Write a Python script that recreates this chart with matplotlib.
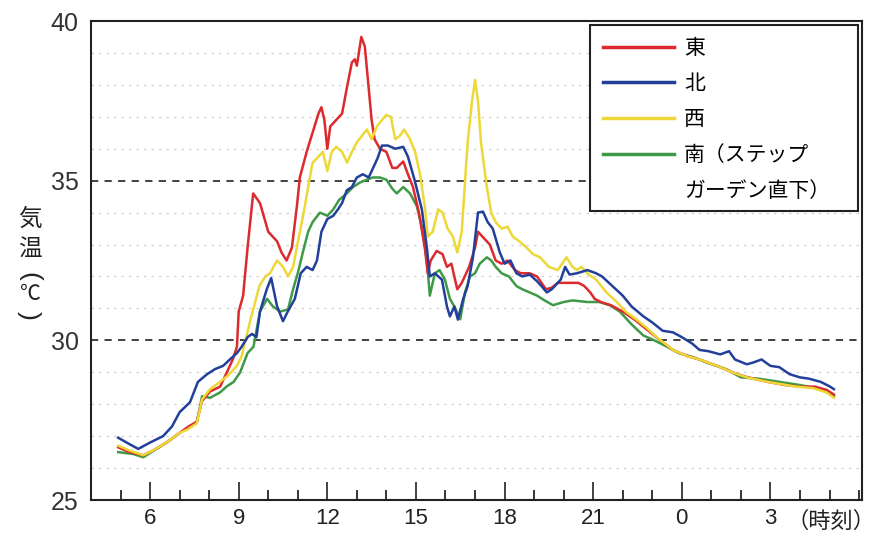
import matplotlib
matplotlib.use("Agg")
import matplotlib.pyplot as plt
from matplotlib.lines import Line2D
from matplotlib.patches import Rectangle

plt.rcParams["font.family"] = ["Liberation Sans", "Noto Sans CJK JP"]

# hours from midnight of day 1 (24 = 0:00 next day)
east_t = [4.92, 5.3, 5.77, 6.1, 6.56, 7.0, 7.3, 7.58, 7.76, 8.03,
          8.37, 8.6, 8.8, 8.94, 9.0, 9.15, 9.3, 9.49, 9.72, 10.0,
          10.3, 10.45, 10.62, 10.8, 10.97, 11.07, 11.3, 11.5, 11.7, 11.8,
          11.9, 12.0, 12.1, 12.3, 12.5, 12.66, 12.83, 12.93, 13.0, 13.15,
          13.27, 13.37, 13.5, 13.6, 13.78, 14.0, 14.2, 14.35, 14.57, 14.73,
          14.9, 15.1, 15.3, 15.4, 15.5, 15.7, 15.9, 16.05, 16.2, 16.4,
          16.55, 16.8, 17.0, 17.1, 17.3, 17.5, 17.7, 17.9, 18.1, 18.35,
          18.55, 18.85, 19.1, 19.4, 19.6, 19.8, 20.15, 20.5, 20.7, 20.9,
          21.05, 21.26, 21.6, 22.0, 22.4, 22.8, 23.2, 23.7, 24.2, 24.6,
          25.2, 25.7, 26.2, 26.9, 27.5, 28.0, 28.5, 28.9, 29.15]
east_v = [26.65, 26.5, 26.4, 26.55, 26.8, 27.1, 27.3, 27.45, 28.1, 28.4,
          28.55, 29.0, 29.4, 29.8, 30.9, 31.4, 32.9, 34.6, 34.3, 33.4,
          33.1, 32.75, 32.5, 32.9, 34.2, 35.1, 35.9, 36.5, 37.1, 37.3,
          36.9, 36.0, 36.7, 36.9, 37.1, 37.9, 38.7, 38.8, 38.6, 39.5,
          39.2, 38.2, 36.9, 36.3, 36.0, 35.9, 35.4, 35.4, 35.6, 35.2,
          34.8, 34.0, 32.9, 32.1, 32.5, 32.8, 32.7, 32.3, 32.4, 31.6,
          31.8, 32.3, 32.9, 33.4, 33.2, 33.0, 32.5, 32.4, 32.5, 32.2,
          32.1, 32.1, 32.0, 31.6, 31.65, 31.8, 31.8, 31.8, 31.7, 31.5,
          31.3, 31.2, 31.1, 30.9, 30.65, 30.35, 30.05, 29.7, 29.5, 29.4,
          29.2, 29.0, 28.85, 28.7, 28.6, 28.55, 28.55, 28.45, 28.3]

north_t = [4.92, 5.3, 5.6, 6.0, 6.44, 6.74, 7.0, 7.35, 7.62, 7.93,
           8.2, 8.47, 8.7, 8.94, 9.1, 9.3, 9.45, 9.6, 9.72, 9.95,
           10.1, 10.3, 10.5, 10.66, 10.9, 11.1, 11.3, 11.5, 11.65, 11.8,
           12.0, 12.2, 12.36, 12.5, 12.66, 12.83, 13.0, 13.2, 13.4, 13.7,
           13.85, 14.05, 14.3, 14.57, 14.73, 14.96, 15.2, 15.37, 15.47, 15.64,
           15.88, 16.05, 16.15, 16.3, 16.42, 16.6, 16.75, 16.93, 17.1, 17.27,
           17.43, 17.6, 17.84, 18.0, 18.2, 18.4, 18.6, 18.85, 19.1, 19.25,
           19.43, 19.6, 19.9, 20.05, 20.2, 20.45, 20.8, 21.1, 21.3, 21.65,
           22.0, 22.3, 22.7, 23.0, 23.35, 23.7, 24.0, 24.35, 24.6, 24.9,
           25.3, 25.6, 25.8, 26.2, 26.4, 26.7, 27.0, 27.3, 27.65, 28.0,
           28.3, 28.7, 29.0, 29.15]
north_v = [26.95, 26.75, 26.6, 26.8, 27.0, 27.3, 27.75, 28.06, 28.7, 28.94,
           29.1, 29.2, 29.4, 29.6, 29.8, 30.1, 30.2, 30.1, 30.9, 31.6,
           31.95, 31.06, 30.6, 30.9, 31.3, 32.1, 32.3, 32.2, 32.5, 33.4,
           33.8, 33.9, 34.1, 34.3, 34.7, 34.8, 35.1, 35.2, 35.1, 35.7,
           36.1, 36.1, 36.0, 36.06, 35.75, 35.0, 34.1, 32.9, 32.0, 32.1,
           31.9, 31.06, 30.75, 31.06, 30.65, 31.3, 31.7, 32.6, 34.0, 34.03,
           33.7, 33.5, 32.75, 32.4, 32.5, 32.1, 32.0, 32.06, 31.85, 31.7,
           31.5, 31.6, 31.9, 32.3, 32.06, 32.1, 32.2, 32.1, 32.0, 31.7,
           31.4, 31.06, 30.75, 30.56, 30.3, 30.25, 30.1, 29.9, 29.7, 29.66,
           29.56, 29.66, 29.4, 29.25, 29.3, 29.4, 29.2, 29.16, 28.94, 28.84,
           28.8, 28.7, 28.56, 28.47]

west_t = [4.92, 5.3, 5.77, 6.1, 6.56, 7.0, 7.25, 7.58, 7.76, 8.03,
          8.37, 8.64, 8.94, 9.1, 9.4, 9.7, 9.9, 10.06, 10.3, 10.5,
          10.67, 10.84, 11.0, 11.2, 11.35, 11.5, 11.7, 11.85, 12.0, 12.15,
          12.3, 12.5, 12.67, 12.83, 13.0, 13.17, 13.34, 13.5, 13.68, 13.85,
          14.0, 14.15, 14.3, 14.45, 14.6, 14.8, 14.97, 15.13, 15.3, 15.4,
          15.57, 15.75, 15.9, 16.07, 16.25, 16.4, 16.55, 16.65, 16.75, 16.9,
          17.0, 17.1, 17.2, 17.4, 17.55, 17.7, 17.9, 18.1, 18.28, 18.5,
          18.75, 18.96, 19.2, 19.5, 19.8, 20.0, 20.1, 20.3, 20.45, 20.6,
          20.8, 21.1, 21.45, 21.8, 22.1, 22.45, 22.8, 23.15, 23.7, 24.2,
          24.6, 25.2, 25.7, 26.2, 26.9, 27.8, 28.45, 28.9, 29.15]
west_v = [26.7, 26.55, 26.4, 26.55, 26.8, 27.1, 27.2, 27.4, 28.15, 28.47,
          28.7, 28.9, 29.2, 29.5, 30.65, 31.7, 32.0, 32.1, 32.5, 32.3,
          32.0, 32.3, 33.06, 34.0, 34.8, 35.56, 35.75, 35.9, 35.3, 35.9,
          36.06, 35.9, 35.56, 35.9, 36.2, 36.4, 36.6, 36.3, 36.7, 36.9,
          37.06, 37.0, 36.3, 36.4, 36.6, 36.3, 35.9, 35.25, 34.2, 33.25,
          33.4, 34.1, 34.0, 33.5, 33.25, 32.75, 33.4, 34.8, 36.2, 37.5,
          38.15, 37.5, 36.2, 34.8, 34.0, 33.7, 33.5, 33.56, 33.25, 33.1,
          32.9, 32.7, 32.6, 32.3, 32.2, 32.47, 32.6, 32.3, 32.2, 32.3,
          32.1, 31.9, 31.5, 31.2, 30.9, 30.66, 30.4, 30.1, 29.7, 29.5,
          29.4, 29.2, 29.0, 28.84, 28.7, 28.56, 28.5, 28.37, 28.2]

south_t = [4.92, 5.43, 5.77, 6.1, 6.56, 7.0, 7.35, 7.58, 7.76, 8.03,
           8.37, 8.6, 8.83, 9.05, 9.3, 9.5, 9.72, 9.96, 10.16, 10.4,
           10.67, 10.84, 11.0, 11.17, 11.35, 11.5, 11.75, 12.0, 12.2, 12.4,
           12.66, 12.87, 13.1, 13.34, 13.54, 13.78, 14.0, 14.2, 14.35, 14.57,
           14.8, 15.03, 15.2, 15.37, 15.47, 15.64, 15.8, 15.98, 16.15, 16.3,
           16.5, 16.66, 16.83, 17.0, 17.16, 17.4, 17.55, 17.7, 17.9, 18.15,
           18.4, 18.6, 18.85, 19.1, 19.3, 19.64, 20.0, 20.3, 20.8, 21.2,
           21.56, 21.9, 22.3, 22.7, 23.0, 23.5, 23.9, 24.4, 24.85, 25.5,
           26.0, 26.6, 27.3, 28.0, 28.7, 29.15]
south_v = [26.5, 26.44, 26.34, 26.53, 26.8, 27.1, 27.3, 27.43, 28.25, 28.2,
           28.37, 28.56, 28.7, 29.0, 29.6, 29.8, 30.9, 31.3, 31.06, 30.9,
           30.97, 31.6, 32.1, 32.75, 33.4, 33.7, 34.0, 33.9, 34.1, 34.4,
           34.6, 34.8, 34.94, 35.03, 35.1, 35.1, 35.03, 34.75, 34.6, 34.8,
           34.6, 34.2, 33.56, 32.5, 31.4, 32.1, 32.2, 31.9, 31.3, 31.06,
           30.66, 31.5, 32.0, 32.1, 32.4, 32.6, 32.5, 32.3, 32.1, 32.0,
           31.7, 31.6, 31.5, 31.4, 31.28, 31.1, 31.2, 31.25, 31.2, 31.2,
           31.1, 30.9, 30.5, 30.15, 30.03, 29.8, 29.6, 29.47, 29.3, 29.1,
           28.84, 28.8, 28.7, 28.6, 28.47, 28.25]

labels = ["東", "北", "西", "南（ステップ", "ガーデン直下）"]
colors = {"east": "#dc2a2e", "north": "#22409a", "west": "#eed838", "south": "#3f9a48"}

xticks = [6, 9, 12, 15, 18, 21, 24, 27]
xticklabels = ["6", "9", "12", "15", "18", "21", "0", "3"]
yticks = [25, 30, 35, 40]

fig = plt.figure(figsize=(8.8, 5.36), dpi=100)
ax = fig.add_axes([91 / 880, 36 / 536, 771 / 880, 479 / 536])

# background grid: faint dotted at every degree, dark dashes at 30 and 35
for y in range(26, 40):
    if y in (30, 35):
        ax.axhline(y, color="#333333", lw=1.3, ls=(0, (4, 3.5)), zorder=1)
    else:
        ax.axhline(y, color="#d2d2d2", lw=0.9, ls=(0, (2, 4)), zorder=1)

l_s, = ax.plot(south_t, south_v, color=colors["south"], lw=1.8, zorder=3)
l_e, = ax.plot(east_t, east_v, color=colors["east"], lw=1.8, zorder=4)
l_w, = ax.plot(west_t, west_v, color=colors["west"], lw=1.8, zorder=5)
l_n, = ax.plot(north_t, north_v, color=colors["north"], lw=1.8, zorder=6)

ax.set_xlim(4, 30.1)
ax.set_ylim(25, 40)
ax.set_xticks(xticks)
ax.set_xticklabels(xticklabels)
ax.set_xticks(range(5, 31), minor=True)
ax.set_yticks(yticks)
ax.tick_params(axis="x", which="major", direction="in", length=13, width=1.2,
               labelsize=16, pad=6, colors="#222222")
ax.tick_params(axis="x", which="minor", direction="in", length=7, width=1.1)
ax.tick_params(axis="y", length=0, labelsize=18, pad=9, colors="#333333")
for sp in ax.spines.values():
    sp.set_linewidth(1.5)
    sp.set_color("#222222")

# legend box
ax.add_patch(Rectangle((0.647, 0.603), 0.348, 0.389, transform=ax.transAxes,
                       facecolor="white", edgecolor="#222222", lw=1.5, zorder=7))
blank = Line2D([], [], color="none")
leg = ax.legend([l_e, l_n, l_w, l_s, blank], labels, loc="upper left",
                bbox_to_anchor=(0.664, 0.962), frameon=False, fontsize=15,
                handlelength=3.4, handletextpad=0.5, labelspacing=0.78,
                borderpad=0, borderaxespad=0)
leg.set_zorder(8)
for ln in leg.get_lines():
    ln.set_linewidth(2.5)

# y label, stacked vertically; brackets turned to their vertical form
for ch, py in [("気", 219), ("温", 250)]:
    fig.text(30 / 880, 1 - py / 536, ch, fontsize=17, family="Noto Sans CJK JP",
             ha="center", va="center", color="#222222")
fig.text(30 / 880, 1 - 294 / 536, "℃", fontsize=15, family="Noto Sans CJK JP",
         ha="center", va="center", color="#222222")
for ch, py in [("(", 276), (")", 315)]:
    fig.text(29 / 880, 1 - py / 536, ch, fontsize=19, rotation=-90,
             family="Liberation Sans", ha="center", va="center",
             color="#222222")
fig.text(786 / 880, 1 - 522 / 536, "（時刻）", fontsize=16,
         ha="left", va="center", color="#222222")

fig.savefig("out.png", dpi=100)
